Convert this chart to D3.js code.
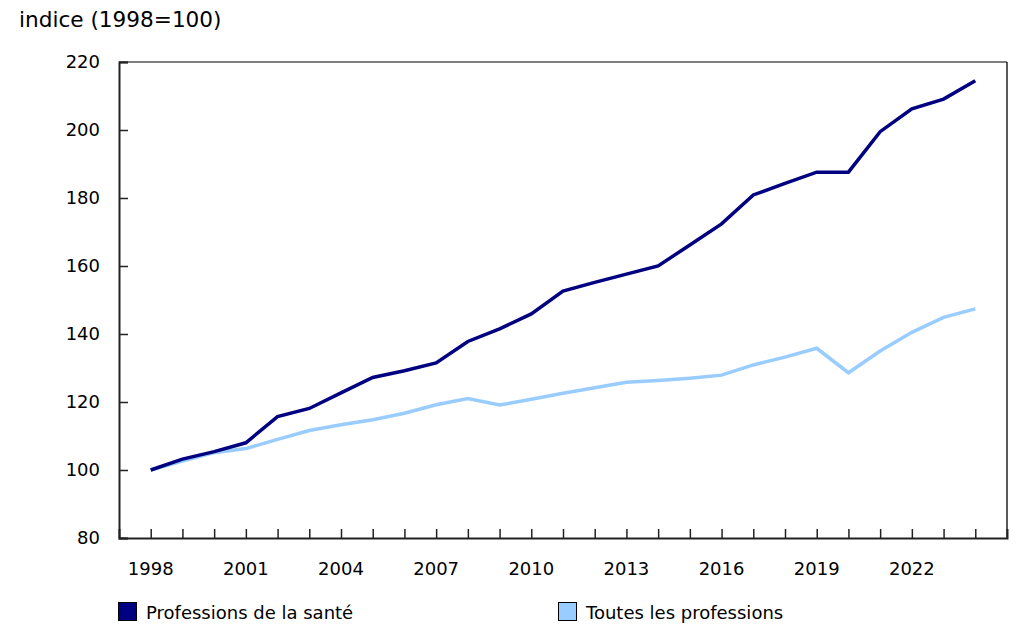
<!DOCTYPE html>
<html>
<head>
<meta charset="utf-8">
<script src="https://cdn.jsdelivr.net/npm/d3@7"></script>
<style>
  body { margin: 0; background: #fff; }
  svg { display: block; }
</style>
</head>
<body>
<div id="chart"></div>
<script>
// data
const years = d3.range(1998, 2025);
const sante = [100, 103.2, 105.4, 108, 115.7, 118.1, 122.7, 127.2, 129.2, 131.5,
  137.8, 141.5, 145.9, 152.6, 155.2, 157.6, 160, 166.2, 172.4, 180.9,
  184.3, 187.6, 187.6, 199.5, 206.2, 209.1, 214.5];
const toutes = [100, 102.6, 105.1, 106.3, 109, 111.6, 113.3, 114.8, 116.7, 119.2,
  121, 119.1, 120.8, 122.6, 124.2, 125.8, 126.3, 127, 127.9, 130.9,
  133.2, 135.8, 128.6, 135, 140.5, 144.9, 147.4];
const yTicks = [80, 100, 120, 140, 160, 180, 200, 220];
const xTickLabels = [1998, 2001, 2004, 2007, 2010, 2013, 2016, 2019, 2022];
const seriesNames = ["Professions de la santé", "Toutes les professions"];
const seriesColors = ["#000080", "#99ccff"];

(function () {
  const width = 1036, height = 637;
  const left = 119, right = 1007, top = 62, bottom = 538;
  const font = "'DejaVu Sans', Verdana, sans-serif";

  const svg = d3.select("#chart").append("svg")
    .attr("width", width)
    .attr("height", height)
    .attr("font-family", font)
    .attr("font-size", 18)
    .attr("fill", "#000");

  const x = d3.scaleLinear().domain([1997, 2025]).range([left, right]);
  const y = d3.scaleLinear().domain([80, 220]).range([bottom, top]);

  // frame
  svg.append("line")
    .attr("x1", left).attr("x2", right).attr("y1", top).attr("y2", top)
    .attr("stroke", "#555").attr("stroke-width", 1.5);
  svg.append("line")
    .attr("x1", right).attr("x2", right).attr("y1", top).attr("y2", bottom)
    .attr("stroke", "#222").attr("stroke-width", 1.5);

  // y axis, ticks pointing inside
  const yAxis = svg.append("g")
    .attr("transform", `translate(${left},0)`)
    .call(d3.axisRight(y).tickValues(yTicks).tickSize(9).tickFormat(""));
  yAxis.select(".domain").attr("stroke", "#222").attr("stroke-width", 2);
  yAxis.selectAll(".tick line").attr("stroke", "#222").attr("stroke-width", 1.5);

  svg.append("g")
    .selectAll("text")
    .data(yTicks)
    .join("text")
    .attr("x", 100)
    .attr("y", (d) => y(d))
    .attr("dy", "0.36em")
    .attr("text-anchor", "end")
    .text((d) => d);

  // x axis, ticks pointing inside
  const xAxis = svg.append("g")
    .attr("transform", `translate(0,${bottom})`)
    .call(d3.axisTop(x).tickValues(years).tickSize(9).tickFormat(""));
  xAxis.select(".domain").attr("stroke", "#222").attr("stroke-width", 2);
  xAxis.selectAll(".tick line").attr("stroke", "#222").attr("stroke-width", 1.5);

  svg.append("g")
    .selectAll("text")
    .data(xTickLabels)
    .join("text")
    .attr("x", (d) => x(d))
    .attr("y", 575)
    .attr("text-anchor", "middle")
    .text((d) => d);

  // title
  svg.append("text")
    .attr("x", 19)
    .attr("y", 27)
    .attr("font-size", 21.6)
    .text("indice (1998=100)");

  // lines
  const line = d3.line()
    .x((d, i) => x(years[i]))
    .y((d) => y(d));

  [toutes, sante].forEach((s, k) => {
    svg.append("path")
      .datum(s)
      .attr("fill", "none")
      .attr("stroke", seriesColors[1 - k])
      .attr("stroke-width", 3.5)
      .attr("stroke-linejoin", "miter")
      .attr("d", line);
  });

  // legend
  const legendX = [118, 558];
  const legend = svg.append("g")
    .selectAll("g")
    .data(seriesNames)
    .join("g")
    .attr("transform", (d, i) => `translate(${legendX[i]},602)`);
  legend.append("rect")
    .attr("x", 0.5).attr("y", 0.5)
    .attr("width", 18).attr("height", 18)
    .attr("fill", (d, i) => seriesColors[i])
    .attr("stroke", "#000")
    .attr("stroke-width", 1);
  legend.append("text")
    .attr("x", 28)
    .attr("y", 17)
    .text((d) => d);
})();
</script>
</body>
</html>
